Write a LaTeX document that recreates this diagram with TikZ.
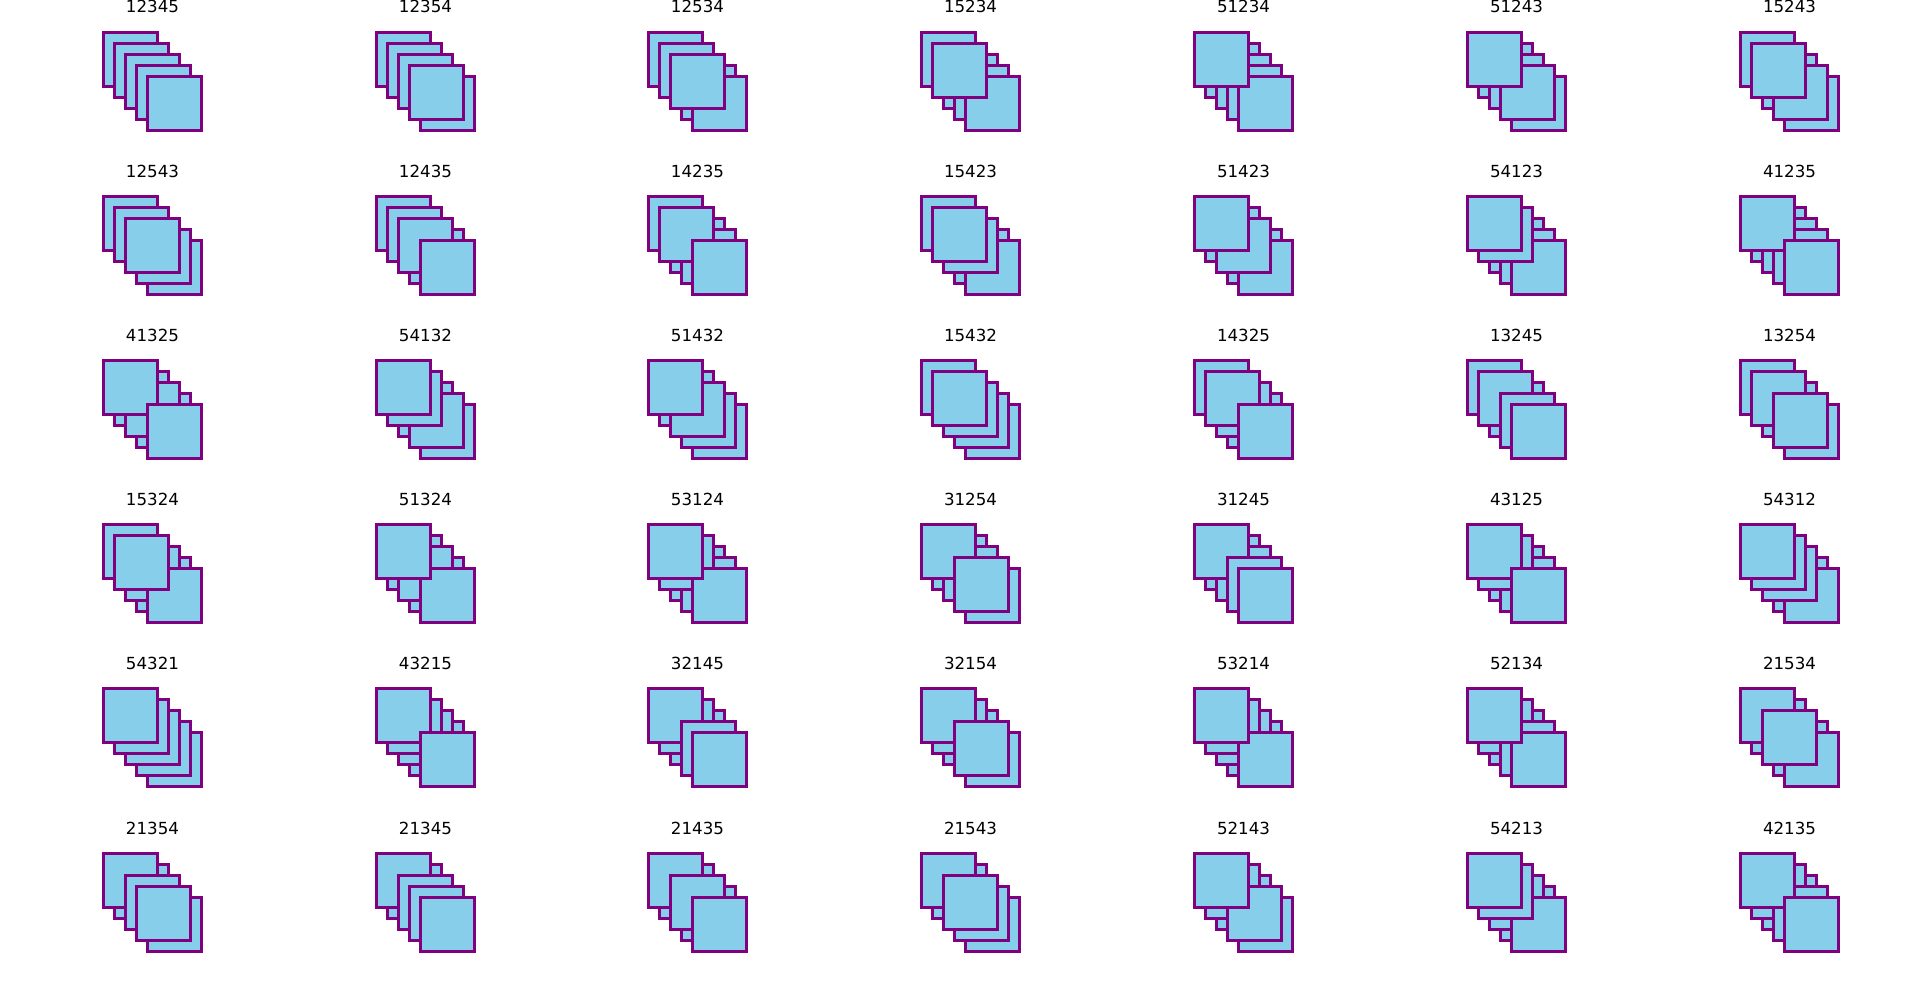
\documentclass[tikz,border=0pt]{standalone}
\usepackage{fontspec}
\setmainfont{DejaVu Sans}
\definecolor{sqfill}{HTML}{87CEEB}
\definecolor{sqedge}{HTML}{800080}
\def\parsedigitsaux#1#2#3#4#5\relax{%
  \expandafter\def\csname dig1\endcsname{#1}%
  \expandafter\def\csname dig2\endcsname{#2}%
  \expandafter\def\csname dig3\endcsname{#3}%
  \expandafter\def\csname dig4\endcsname{#4}%
  \expandafter\def\csname dig5\endcsname{#5}}
\newcommand\parsedigits[1]{\expandafter\parsedigitsaux#1\relax}
\tikzset{
  sq/.style={fill=sqfill, draw=sqedge, line width=2.16pt},
  lbl/.style={anchor=base, inner sep=0pt, font=\fontsize{12}{14}\selectfont}
}
\begin{document}
\begin{tikzpicture}[x=0.72pt, y=-0.72pt]
\useasboundingbox (0,0) rectangle (1923,1000);
\foreach \lab [count=\k from 0] in {12345,12354,12534,15234,51234,51243,15243,
  12543,12435,14235,15423,51423,54123,41235,
  41325,54132,51432,15432,14325,13245,13254,
  15324,51324,53124,31254,31245,43125,54312,
  54321,43215,32145,32154,53214,52134,21534,
  21354,21345,21435,21543,52143,54213,42135}{
  \pgfmathtruncatemacro\col{mod(\k,7)}
  \pgfmathtruncatemacro\row{int(\k/7)}
  \pgfmathsetmacro\xo{round(102.7+272.8*\col)+0.5}
  \pgfmathsetmacro\yo{round(31.6+164.2*\row)+0.5}
  \node[lbl] (t\k) at (\xo+49,\yo-19.5) {\lab};
  \parsedigits{\lab}
  \foreach \z in {1,...,5}{
    \foreach \i in {1,...,5}{
      \ifnum\csname dig\i\endcsname=\z\relax
        \draw[sq] (\xo+11*\i-11,\yo+11*\i-11) rectangle ++(54,54);
      \fi
    }
  }
}
\end{tikzpicture}
\end{document}
